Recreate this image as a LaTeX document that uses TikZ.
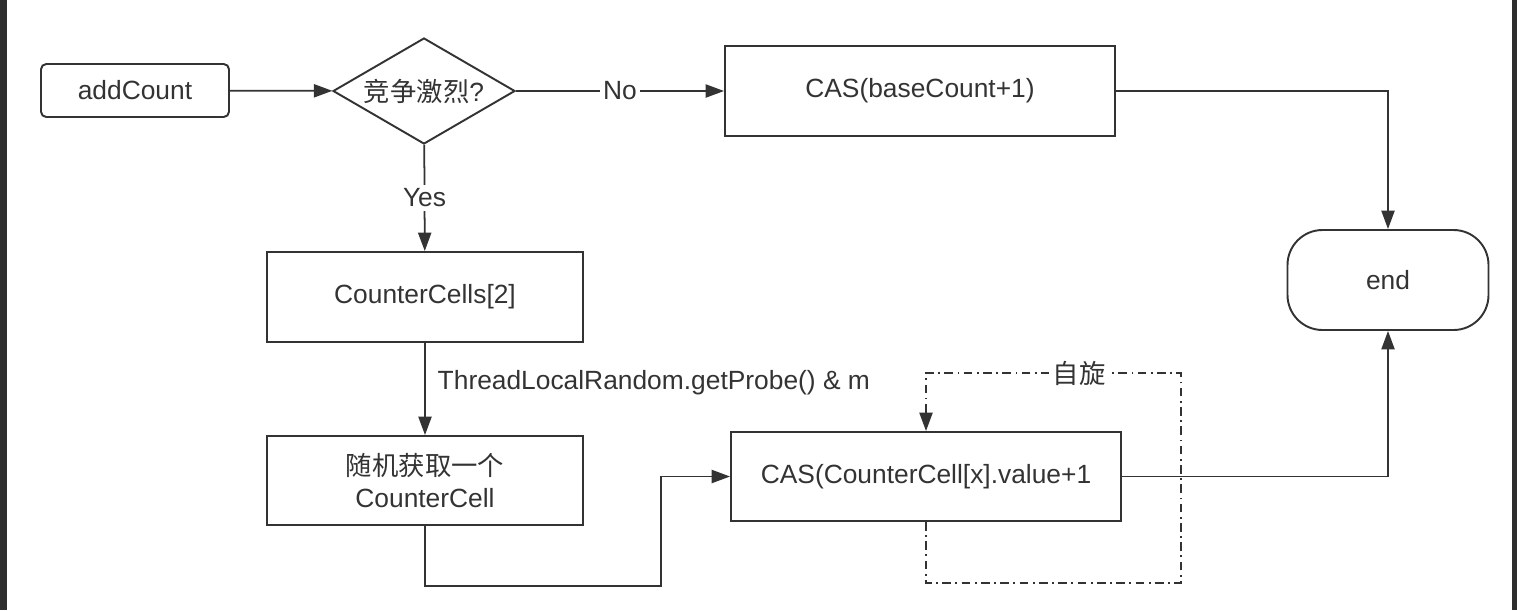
\documentclass[tikz,border=0pt]{standalone}
\usepackage{fontspec}
\setmainfont{Liberation Sans}
\newfontfamily\cjk{Noto Sans CJK SC}
\usetikzlibrary{shapes.geometric,arrows.meta,positioning,calc}
\definecolor{fcInk}{HTML}{333333}
\definecolor{fcBand}{HTML}{2E2E2E}

\begin{document}
\begin{tikzpicture}[font=\fontsize{15}{18}\selectfont,text=fcInk,
  b/.style={draw=fcInk,line width=1.1pt,minimum width=7.8cm,minimum height=1.8cm,
            align=center},
  d/.style={diamond,draw=fcInk,line width=1.1pt,minimum width=3.64cm,
            minimum height=2.12cm,inner sep=0pt,shape aspect=1.7},
  a/.style={-{Triangle[length=10.5pt,width=7.5pt]},fcInk,line width=1pt},
  sp/.style={a,dash pattern=on 5pt off 2.5pt on 1pt off 2.5pt},
  lbl/.style={fill=white,inner sep=2pt}]
\useasboundingbox (0,0) rectangle (30.34,-12.2);
\fill[fcBand] (0,0) rectangle (0.14,-12.2);
\fill[fcBand] (30.24,0) rectangle (30.34,-12.2);
\node[b,rounded corners=3pt,minimum width=3.76cm,minimum height=1.06cm] (add) at (2.70,-1.81) {addCount};
\node[d] (q) at (8.48,-1.82) {{\cjk 竞争激烈}?};
\node[b] (base) at (18.40,-1.82) {CAS(baseCount+1)};
\node[b,rounded corners=0.7cm,minimum width=4.02cm,minimum height=2cm] (end) at (27.76,-5.60) {end};
\node[b,minimum width=6.32cm] (cells) at (8.50,-5.94) {CounterCells[2]};
\node[b,minimum width=6.32cm,minimum height=1.78cm] (pick) at (8.50,-9.61) {{\cjk 随机获取一个}\\CounterCell};
\node[b,minimum height=1.78cm] (cell) at (18.52,-9.53) {CAS(CounterCell[x].value+1};
\coordinate (jog) at (13.22,-11.72);
\coordinate (sb) at (23.62,-11.66);
\coordinate (st) at (23.62,-7.46);
\draw[a] (add) -- (q);
\draw[a] (q) -- node[lbl] {No} (base);
\draw[a] (base.east) -| (end.north);
\draw[a] (q) -- node[lbl] {Yes} (cells);
\draw[a] (cells) -- node[right=0.12cm,pos=0.43] {ThreadLocalRandom.getProbe() \& m} (pick);
\draw[a] (pick.south) |- (jog) |- (cell.west);
\draw[a] (cell.east) -| (end.south);
\draw[sp] (cell.south) |- (sb) -- (st) -| node[lbl,pos=0.2] {\cjk 自旋} (cell.north);
\end{tikzpicture}
\end{document}
